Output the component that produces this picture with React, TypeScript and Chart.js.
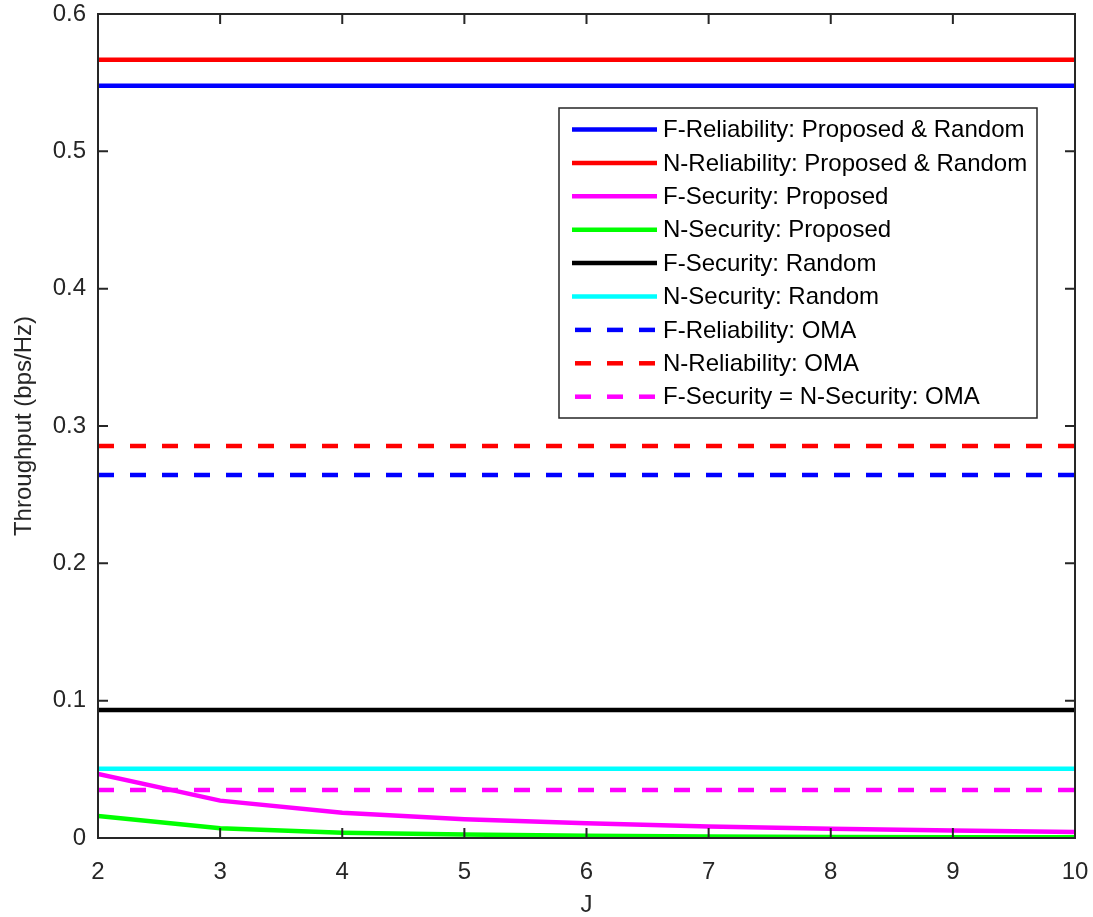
import React, { useEffect, useRef } from "react";
import { Chart, registerables } from "chart.js";

Chart.register(...registerables);

const J = [2, 3, 4, 5, 6, 7, 8, 9, 10];
const fRelProposedRandom = [0.5477, 0.5477, 0.5477, 0.5477, 0.5477, 0.5477, 0.5477, 0.5477, 0.5477];
const nRelProposedRandom = [0.5666, 0.5666, 0.5666, 0.5666, 0.5666, 0.5666, 0.5666, 0.5666, 0.5666];
const fSecProposed = [0.0466, 0.0272, 0.0184, 0.0136, 0.0107, 0.0084, 0.0067, 0.0054, 0.0043];
const nSecProposed = [0.016, 0.0071, 0.0039, 0.0025, 0.0016, 0.0011, 0.0008, 0.0006, 0.0005];
const fSecRandom = [0.0932, 0.0932, 0.0932, 0.0932, 0.0932, 0.0932, 0.0932, 0.0932, 0.0932];
const nSecRandom = [0.0505, 0.0505, 0.0505, 0.0505, 0.0505, 0.0505, 0.0505, 0.0505, 0.0505];
const fRelOMA = [0.2644, 0.2644, 0.2644, 0.2644, 0.2644, 0.2644, 0.2644, 0.2644, 0.2644];
const nRelOMA = [0.2855, 0.2855, 0.2855, 0.2855, 0.2855, 0.2855, 0.2855, 0.2855, 0.2855];
const secOMA = [0.035, 0.035, 0.035, 0.035, 0.035, 0.035, 0.035, 0.035, 0.035];

const xTicks = [2, 3, 4, 5, 6, 7, 8, 9, 10];
const yTicks = [0, 0.1, 0.2, 0.3, 0.4, 0.5, 0.6];

const FONT = "'Liberation Sans', Arial, sans-serif";
const AXIS = "#262626";

type S = { label: string; data: number[]; color: string; dash: number[] };
const series: S[] = [
  { label: "F-Reliability: Proposed & Random", data: fRelProposedRandom, color: "#0000ff", dash: [] },
  { label: "N-Reliability: Proposed & Random", data: nRelProposedRandom, color: "#ff0000", dash: [] },
  { label: "F-Security: Proposed", data: fSecProposed, color: "#ff00ff", dash: [] },
  { label: "N-Security: Proposed", data: nSecProposed, color: "#00ff00", dash: [] },
  { label: "F-Security: Random", data: fSecRandom, color: "#000000", dash: [] },
  { label: "N-Security: Random", data: nSecRandom, color: "#00ffff", dash: [] },
  { label: "F-Reliability: OMA", data: fRelOMA, color: "#0000ff", dash: [16, 16] },
  { label: "N-Reliability: OMA", data: nRelOMA, color: "#ff0000", dash: [16, 16] },
  { label: "F-Security = N-Security: OMA", data: secOMA, color: "#ff00ff", dash: [16, 16] },
];

const framePlugin = {
  id: "frame",
  afterDatasetsDraw(chart: any) {
    const { ctx, chartArea: a, scales } = chart;
    ctx.save();
    ctx.strokeStyle = AXIS;
    ctx.lineWidth = 2;
    ctx.setLineDash([]);
    ctx.strokeRect(a.left, a.top, a.right - a.left, a.bottom - a.top);
    const tl = 10;
    ctx.beginPath();
    for (const v of xTicks) {
      const x = scales.x.getPixelForValue(v);
      ctx.moveTo(x, a.bottom);
      ctx.lineTo(x, a.bottom - tl);
      ctx.moveTo(x, a.top);
      ctx.lineTo(x, a.top + tl);
    }
    for (const v of yTicks) {
      const y = scales.y.getPixelForValue(v);
      ctx.moveTo(a.left, y);
      ctx.lineTo(a.left + tl, y);
      ctx.moveTo(a.right, y);
      ctx.lineTo(a.right - tl, y);
    }
    ctx.stroke();

    // legend
    const bx = 559, by = 108, bw = 478, bh = 310;
    ctx.fillStyle = "#ffffff";
    ctx.fillRect(bx, by, bw, bh);
    ctx.strokeStyle = AXIS;
    ctx.lineWidth = 1.5;
    ctx.strokeRect(bx, by, bw, bh);
    ctx.font = `24px ${FONT}`;
    ctx.textBaseline = "middle";
    ctx.textAlign = "left";
    chart.data.datasets.forEach((ds: any, i: number) => {
      const y = 129.5 + i * 33.4;
      ctx.strokeStyle = ds.borderColor;
      ctx.lineWidth = 4.5;
      if (ds.borderDash && ds.borderDash.length) {
        ctx.setLineDash([16, 16]);
        ctx.lineDashOffset = 0;
        ctx.beginPath();
        ctx.moveTo(575, y);
        ctx.lineTo(657, y);
        ctx.stroke();
      } else {
        ctx.setLineDash([]);
        ctx.beginPath();
        ctx.moveTo(572, y);
        ctx.lineTo(657, y);
        ctx.stroke();
      }
      ctx.setLineDash([]);
      ctx.fillStyle = "#000000";
      ctx.fillText(ds.label, 663, y + 1);
    });
    ctx.restore();
  },
};

export default function App() {
  const ref = useRef<HTMLCanvasElement>(null);
  useEffect(() => {
    document.body.style.margin = "0";
    const chart = new Chart(ref.current!, {
      type: "line",
      data: {
        datasets: series.map((s) => ({
          label: s.label,
          data: J.map((x, i) => ({ x, y: s.data[i] })),
          borderColor: s.color,
          backgroundColor: s.color,
          borderWidth: 4.5,
          borderDash: s.dash,
          pointRadius: 0,
          tension: 0,
          fill: false,
        })),
      },
      options: {
        responsive: false,
        animation: false,
        layout: { padding: { top: 14, right: 18, left: 0, bottom: 0 } },
        plugins: { legend: { display: false }, tooltip: { enabled: false } },
        scales: {
          x: {
            type: "linear",
            min: 2,
            max: 10,
            afterBuildTicks: (s: any) => {
              s.ticks = xTicks.map((v) => ({ value: v }));
            },
            afterFit: (s: any) => {
              s.height = 79;
              s.paddingLeft = 0;
              s.paddingRight = 0;
              s.paddingTop = 0;
              s.paddingBottom = 0;
            },
            grid: { display: false, drawTicks: false },
            border: { display: false },
            ticks: { color: AXIS, font: { family: FONT, size: 24 }, padding: 20, maxRotation: 0 },
            title: { display: true, text: "J", color: AXIS, font: { family: FONT, size: 24 }, padding: { top: 0, bottom: -3 } },
          },
          y: {
            min: 0,
            max: 0.6,
            afterBuildTicks: (s: any) => {
              s.ticks = yTicks.map((v) => ({ value: v }));
            },
            afterFit: (s: any) => {
              s.width = 98;
              s.paddingLeft = 0;
              s.paddingRight = 0;
              s.paddingTop = 0;
              s.paddingBottom = 0;
            },
            grid: { display: false, drawTicks: false },
            border: { display: false },
            ticks: {
              color: AXIS,
              font: { family: FONT, size: 24 },
              padding: 12,
              callback: (v: any) => String(Math.round(Number(v) * 10) / 10),
            },
            title: { display: true, text: "Throughput (bps/Hz)", color: AXIS, font: { family: FONT, size: 24 }, padding: { top: 10, bottom: 0 } },
          },
        },
      },
      plugins: [framePlugin],
    });
    return () => chart.destroy();
  }, []);
  return <canvas ref={ref} width={1093} height={917} style={{ display: "block" }} />;
}
